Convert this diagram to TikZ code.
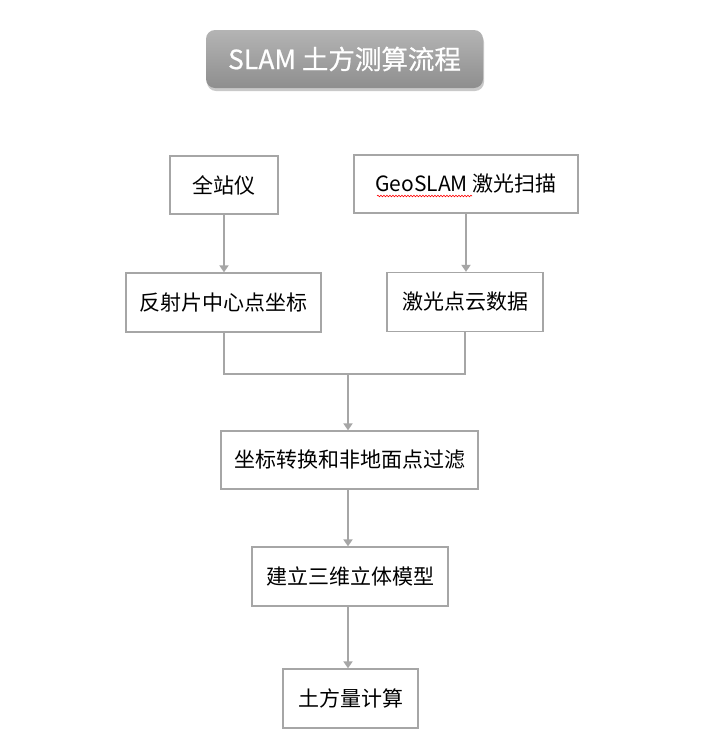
\documentclass[tikz,border=0pt]{standalone}
\usepackage{fontspec}
\setmainfont{Noto Sans CJK SC}
\newfontfamily\cjk{Noto Sans CJK SC}
\newfontfamily\cjktitle[FakeBold=0.6]{Noto Sans CJK SC}
\usetikzlibrary{arrows.meta,shadows,decorations.pathmorphing,calc}
\definecolor{lineg}{HTML}{A6A6A6}
\definecolor{titletop}{HTML}{B4B4B4}
\definecolor{titlebot}{HTML}{8E8E8E}
\tikzset{
  box/.style={draw=lineg, line width=1.3pt, fill=white, inner sep=0pt,
    font=\cjk\fontsize{21}{25}\selectfont, text=black},
  conn/.style={draw=lineg, line width=2pt},
  arr/.style={conn, -{Triangle[length=7pt,width=9pt]}},
  titlebox/.style={rounded corners=9pt, top color=titletop, bottom color=titlebot,
    draw=none, inner sep=0pt, text=white, font=\cjktitle\fontsize{26.5}{31}\selectfont,
    drop shadow={shadow xshift=1pt, shadow yshift=-3pt, opacity=0.35, fill=black!60}},
}
\begin{document}
\begin{tikzpicture}[x=1pt,y=-1pt]
\useasboundingbox (0,0) rectangle (717,750);
\fill[white] (0,0) rectangle (717,750);
\node[titlebox, minimum width=277pt, minimum height=58pt] (title) at (344.5,59) {SLAM 土方测算流程};
\node[box, minimum width=108pt, minimum height=58pt] (qz) at (224,185) {全站仪};
\node[box, minimum width=224pt, minimum height=58pt] (geo) at (466,184) {GeoSLAM 激光扫描};
\node[box, minimum width=195pt, minimum height=59pt] (fs) at (223.5,302.5) {反射片中心点坐标};
\node[box, minimum width=156pt, minimum height=59pt] (jg) at (465,302) {激光点云数据};
\node[box, minimum width=257pt, minimum height=58pt] (zb) at (349.5,460) {坐标转换和非地面点过滤};
\node[box, minimum width=196pt, minimum height=59pt] (jl) at (350,576.5) {建立三维立体模型};
\node[box, minimum width=135pt, minimum height=59pt] (tf) at (350.5,698.5) {土方量计算};
\coordinate (m) at (348,374);
\coordinate (wl) at (377,196);
\coordinate (wr) at (472,196);
\draw[red, line width=0.6pt, decoration={snake, amplitude=0.8pt, segment length=3pt}, decorate] (wl) -- (wr);
\draw[arr] (qz.south) -- (qz.south |- fs.north);
\draw[arr] (geo.south) -- (geo.south |- jg.north);
\draw[conn] (fs.south) |- (m) -| (jg.south);
\draw[arr] (m) -- (m |- zb.north);
\draw[arr] (zb.south -| m) -- (m |- jl.north);
\draw[arr] (jl.south -| m) -- (m |- tf.north);
\end{tikzpicture}
\end{document}
